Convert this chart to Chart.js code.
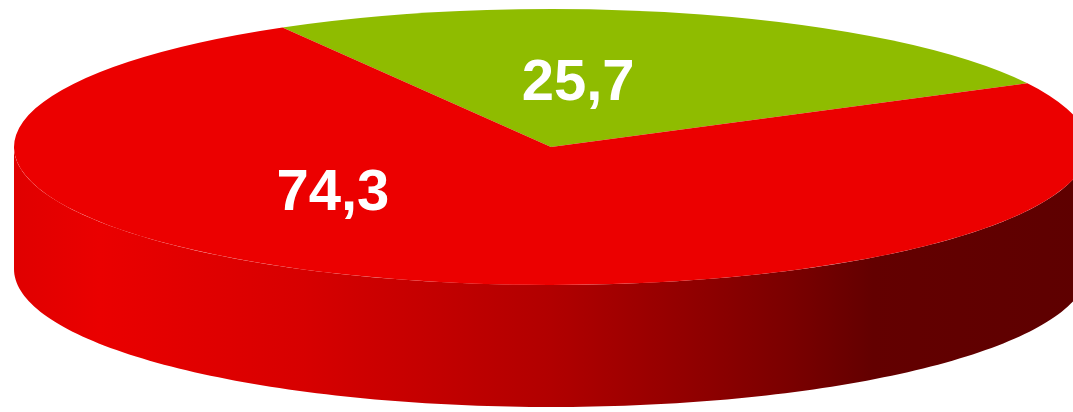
<!DOCTYPE html>
<html>
<head>
<meta charset="utf-8">
<script src="https://cdn.jsdelivr.net/npm/chart.js@4/dist/chart.umd.min.js"></script>
<style>
html,body{margin:0;padding:0;background:#fff;overflow:hidden}
#wrap{position:relative;width:1073px;height:412px}
</style>
</head>
<body>
<div id="wrap"><canvas id="c"></canvas></div>
<script>
const categories = ['Segment 1', 'Segment 2'];
const values = [25.7, 74.3];

function shade(color, f) {
  const n = parseInt(color.slice(1), 16);
  const r = (n >> 16) & 255, g = (n >> 8) & 255, b = n & 255;
  return 'rgb(' + Math.round(r * f) + ',' + Math.round(g * f) + ',' + Math.round(b * f) + ')';
}

const pie3d = {
  id: 'pie3d',
  beforeDatasetsDraw(chart, args, opts) {
    const ctx = chart.ctx;
    const meta = chart.getDatasetMeta(0);
    const a0 = meta.data[0];
    const R = a0.outerRadius, cx = a0.x, cy = a0.y;
    const { X, Y, rx, ry, depth } = opts;
    ctx.save();
    meta.data.forEach((arc) => {
      const color = arc.options.backgroundColor;
      const s = arc.startAngle, e = arc.endAngle;
      for (let k = -2; k <= 2; k++) {
        const lo = Math.max(s, k * 2 * Math.PI);
        const hi = Math.min(e, k * 2 * Math.PI + Math.PI);
        if (hi <= lo) continue;
        const g = ctx.createLinearGradient(X - rx, 0, X + rx, 0);
        opts.shadeStops.forEach(([p, f]) => g.addColorStop(p, shade(color, f)));
        ctx.beginPath();
        const N = 160;
        for (let j = 0; j <= N; j++) {
          const t = lo + (hi - lo) * j / N;
          const x = X + rx * Math.cos(t), y = Y + ry * Math.sin(t);
          if (j) ctx.lineTo(x, y); else ctx.moveTo(x, y);
        }
        for (let j = N; j >= 0; j--) {
          const t = lo + (hi - lo) * j / N;
          ctx.lineTo(X + rx * Math.cos(t), Y + ry * Math.sin(t) + depth);
        }
        ctx.closePath();
        ctx.fillStyle = g;
        ctx.fill();
      }
    });
    ctx.translate(X, Y);
    ctx.scale(rx / R, ry / R);
    ctx.translate(-cx, -cy);
  },
  afterDatasetsDraw(chart) {
    chart.ctx.restore();
  },
  afterDraw(chart, args, opts) {
    const ctx = chart.ctx;
    const meta = chart.getDatasetMeta(0);
    const a0 = meta.data[0];
    const R = a0.outerRadius, cx = a0.x, cy = a0.y;
    const { X, Y, rx, ry } = opts;
    ctx.save();
    ctx.fillStyle = '#ffffff';
    ctx.font = 'bold ' + opts.fontSize + 'px "Liberation Sans", Arial, sans-serif';
    ctx.textAlign = 'center';
    ctx.textBaseline = 'alphabetic';
    meta.data.forEach((arc, i) => {
      const p = arc.tooltipPosition();
      const off = opts.labelShift[i] || [0, 0];
      const x = X + (p.x - cx) * rx / R + off[0];
      const y = Y + (p.y - cy) * ry / R + off[1];
      const txt = values[i].toLocaleString('de-DE', { minimumFractionDigits: 1, maximumFractionDigits: 1 });
      ctx.fillText(txt, x, y + opts.fontSize * 0.36);
    });
    ctx.restore();
  }
};

new Chart(document.getElementById('c'), {
  type: 'pie',
  data: {
    labels: categories,
    datasets: [{
      data: values,
      backgroundColor: ['#8fbc00', '#ec0000'],
      borderWidth: 0,
      clip: false
    }]
  },
  options: {
    responsive: true,
    maintainAspectRatio: false,
    animation: false,
    rotation: -30,
    layout: { padding: 0 },
    events: [],
    plugins: {
      legend: { display: false },
      tooltip: { enabled: false },
      pie3d: {
        X: 551, Y: 147, rx: 537, ry: 138, depth: 122,
        shadeStops: [[0, 0.95], [0.08, 0.99], [0.27, 0.91], [0.5, 0.75], [0.72, 0.52], [0.8, 0.42], [1, 0.40]],
        fontSize: 58,
        labelShift: [[-48, -2], [-143, -24]]
      }
    }
  },
  plugins: [pie3d]
});
</script>
</body>
</html>
